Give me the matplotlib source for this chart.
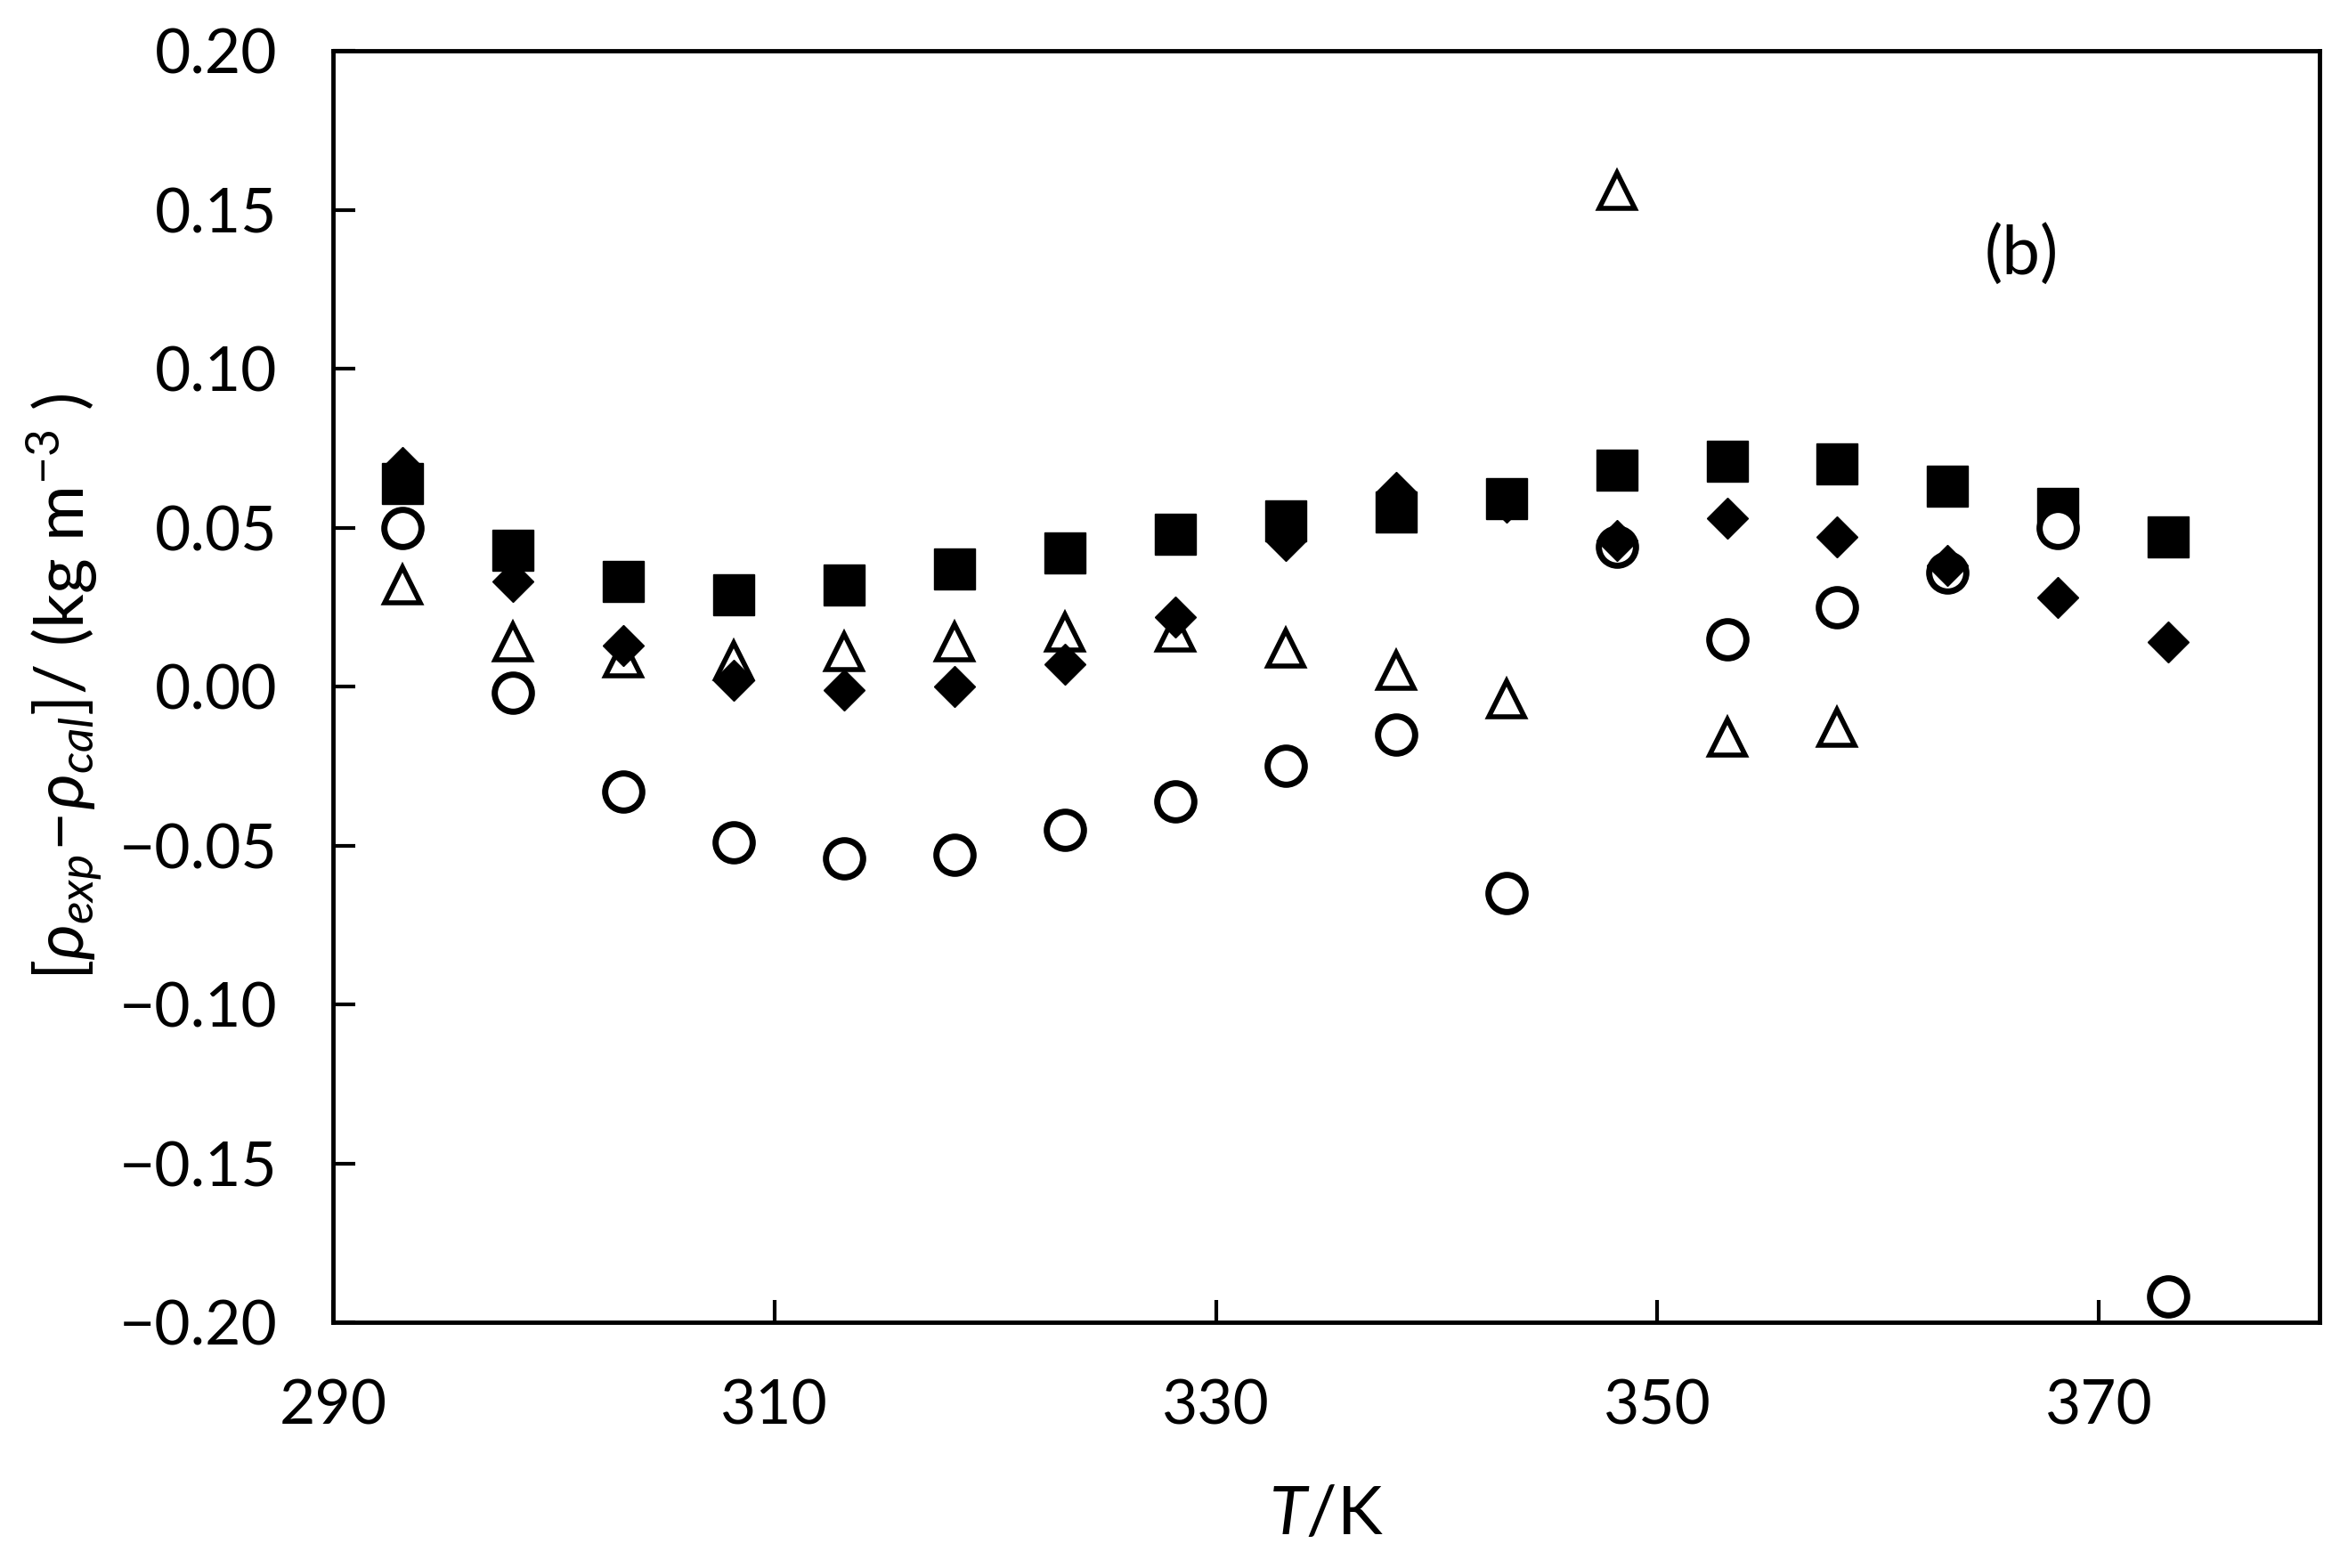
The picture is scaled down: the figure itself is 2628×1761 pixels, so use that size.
import matplotlib
matplotlib.use("Agg")
import matplotlib.pyplot as plt

plt.rcParams['font.family'] = ['Lato', 'DejaVu Sans']
plt.rcParams['mathtext.fontset'] = 'custom'
plt.rcParams['mathtext.rm'] = 'Lato'
plt.rcParams['mathtext.it'] = 'Lato:italic'
plt.rcParams['mathtext.bf'] = 'Lato:bold'

# температуры, K
T = [293.15, 298.15, 303.15, 308.15, 313.15, 318.15, 323.15, 328.15, 333.15,
     338.15, 343.15, 348.15, 353.15, 358.15, 363.15, 368.15, 373.15]

# отклонения плотности, kg m-3
squares = [0.064, 0.043, 0.033, 0.029, 0.032, 0.037, 0.042, 0.048, 0.052,
           0.055, 0.059, 0.068, 0.071, 0.070, 0.063, 0.056, 0.047]
diamonds = [0.069, 0.033, 0.013, 0.002, -0.001, 0.000, 0.007, 0.022, 0.046,
            0.061, 0.058, 0.046, 0.053, 0.047, 0.038, 0.028, 0.014]
circles = [0.050, -0.002, -0.033, -0.049, -0.054, -0.053, -0.045, -0.036, -0.025,
           -0.015, -0.065, 0.044, 0.015, 0.025, 0.036, 0.050, -0.192]
T_tri = T[:14]
triangles = [0.032, 0.014, 0.009, 0.008, 0.011, 0.014, 0.017, 0.017, 0.012,
             0.005, -0.004, 0.156, -0.016, -0.013]

fig = plt.figure(figsize=(26.28, 17.61), dpi=100)
ax = fig.add_axes([0.1423, 0.1567, 0.849, 0.8109])

ax.plot(T, squares, 's', color='black', ms=33, ls='none')
ax.plot(T, circles, 'o', mfc='white', mec='black', mew=5, ms=30, ls='none')
ax.plot(T, diamonds, 'D', color='black', ms=23, ls='none')
ax.plot(T_tri, triangles, '^', mfc='none', mec='black', mew=4, ms=29, ls='none')

ax.set_xlim(290, 380)
ax.set_ylim(-0.20, 0.20)
ax.set_xticks([290, 310, 330, 350, 370])
ax.set_yticks([-0.20, -0.15, -0.10, -0.05, 0.00, 0.05, 0.10, 0.15, 0.20])
ax.set_yticklabels([f'{v:.2f}'.replace('-', '\u2212') for v in ax.get_yticks()])

ax.tick_params(direction='in', length=18, width=3, labelsize=50, pad=45)
ax.tick_params(axis='x', pad=46)
for s in ax.spines.values():
    s.set_linewidth(3.5)

ax.set_xlabel('$\\mathit{T}$/K', fontsize=55, labelpad=40)
ax.set_ylabel('$\\mathit{[\\rho_{exp}\\!-\\!\\rho_{cal}]/}$ (kg m$^{\\mathrm{-3}}$ )',
              fontsize=55, labelpad=12)

ax.text(0.85, 0.84, '(b)', transform=ax.transAxes, fontsize=55, ha='center', va='center')

fig.savefig('out.png', dpi=100)
